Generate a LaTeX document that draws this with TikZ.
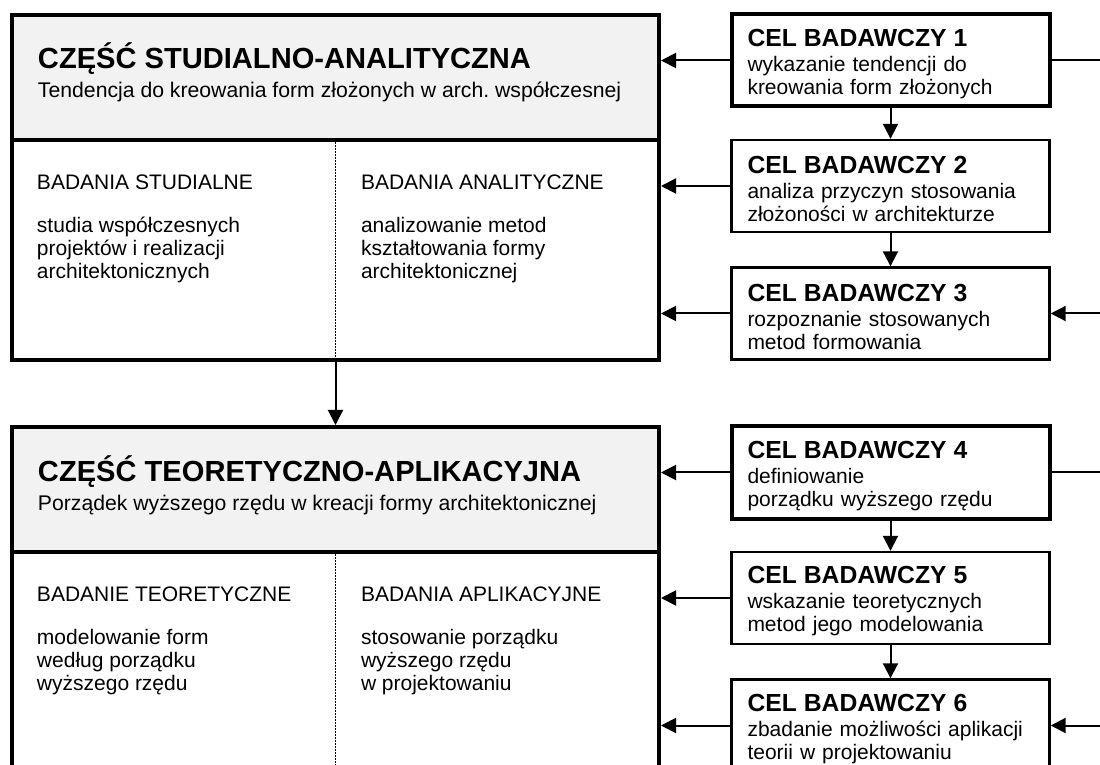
\documentclass[tikz,border=0pt]{standalone}
\usepackage{fontspec}
\setmainfont{Liberation Sans}
\usetikzlibrary{arrows.meta}
\frenchspacing

\definecolor{headgrey}{HTML}{F2F2F2}

\tikzset{
	part/.style={draw, line width=2pt, minimum width=323.5pt, minimum height=172.5pt, inner sep=0pt},
	head/.style={draw, fill=headgrey, line width=2pt, minimum width=323.5pt, minimum height=62.5pt, inner sep=0pt},
	goal/.style={draw, line width=1.2pt, minimum width=159pt, minimum height=46pt, text width=143pt,
		inner xsep=8pt, inner ysep=0pt, align=left, font=\fontsize{10.5}{11.5}\selectfont},
	goalmain/.style={goal, line width=2pt},
	title/.style={anchor=base west, inner sep=0pt, font=\fontsize{14.55}{16}\selectfont\bfseries},
	subtitle/.style={anchor=base west, inner sep=0pt, font=\fontsize{10.6}{11.5}\selectfont},
	label/.style={anchor=base west, inner sep=0pt, font=\fontsize{10.5}{11.5}\selectfont},
	body/.style={anchor=north west, inner sep=0pt, align=left, font=\fontsize{10.5}{11.5}\selectfont},
	divider/.style={line width=0.9pt, dash pattern=on 1pt off 0.5pt},
}
\newcommand{\goalname}[1]{{\rule{0pt}{12pt}\fontsize{12.35}{14}\selectfont\bfseries CEL BADAWCZY #1}\\[1pt]}

\begin{document}
\begin{tikzpicture}[x=0.5pt, y=-0.5pt, line width=1pt, >={Triangle[length=7.5pt,width=7.5pt]}]
	\useasboundingbox (0,0) rectangle (1100,765);
	\clip (0,0) rectangle (1100,765);

	% upper part
	\node[part] (part1) at (335.5,187.5) {};
	\node[head, anchor=north] (head1) at (part1.north) {};
	\node[title] (title1) at (37,69) {CZĘŚĆ STUDIALNO-ANALITYCZNA};
	\node[subtitle] (sub1) at (37,98) {Tendencja do kreowania form złożonych w arch. współczesnej};
	\draw[divider] (head1.south) -- (part1.south);
	\node[label] (lab1a) at (36,190) {BADANIA STUDIALNE};
	\node[label] (lab1b) at (360,190) {BADANIA ANALITYCZNE};
	\node[body] (txt1a) at (36,216) {studia współczesnych\\projektów i realizacji\\architektonicznych};
	\node[body] (txt1b) at (360,216) {analizowanie metod\\kształtowania formy\\architektonicznej};

	% lower part
	\node[part] (part2) at (335.5,599.5) {};
	\node[head, anchor=north] (head2) at (part2.north) {};
	\node[title] (title2) at (37,481) {CZĘŚĆ TEORETYCZNO-APLIKACYJNA};
	\node[subtitle] (sub2) at (37,510) {Porządek wyższego rzędu w kreacji formy architektonicznej};
	\draw[divider] (head2.south) -- (part2.south);
	\node[label] (lab2a) at (36,602) {BADANIE TEORETYCZNE};
	\node[label] (lab2b) at (360,602) {BADANIA APLIKACYJNE};
	\node[body] (txt2a) at (36,628) {modelowanie form\\według porządku\\wyższego rzędu};
	\node[body] (txt2b) at (360,628) {stosowanie porządku\\wyższego rzędu\\w projektowaniu};

	% research goals
	\node[goalmain] (cel1) at (890.5,60.5) {\goalname{1}wykazanie tendencji do\\kreowania form złożonych};
	\node[goal] (cel2) at (890.5,186) {\goalname{2}analiza przyczyn stosowania\\złożoności w architekturze};
	\node[goal] (cel3) at (890.5,313.5) {\goalname{3}rozpoznanie stosowanych\\metod formowania};
	\node[goalmain] (cel4) at (890.5,472.5) {\goalname{4}definiowanie\\porządku wyższego rzędu};
	\node[goal] (cel5) at (890.5,598) {\goalname{5}wskazanie teoretycznych\\metod jego modelowania};
	\node[goal] (cel6) at (890.5,725.5) {\goalname{6}zbadanie możliwości aplikacji\\teorii w projektowaniu};

	\coordinate (out1) at (1100,60.5);
	\coordinate (in3) at (1100,313.5);
	\coordinate (out4) at (1100,472.5);
	\coordinate (in6) at (1100,725.5);

	\draw[->] (part1.south) -- (part2.north);
	\draw[->] (cel1.south) -- (cel2.north);
	\draw[->] (cel2.south) -- (cel3.north);
	\draw[->] (cel4.south) -- (cel5.north);
	\draw[->] (cel5.south) -- (cel6.north);
	\draw[->] (cel1.west) -- (cel1.west -| part1.east);
	\draw[->] (cel2.west) -- (cel2.west -| part1.east);
	\draw[->] (cel3.west) -- (cel3.west -| part1.east);
	\draw[->] (cel4.west) -- (cel4.west -| part2.east);
	\draw[->] (cel5.west) -- (cel5.west -| part2.east);
	\draw[->] (cel6.west) -- (cel6.west -| part2.east);
	\draw (cel1.east) -- (out1);
	\draw (cel4.east) -- (out4);
	\draw[->] (in3) -- (cel3.east);
	\draw[->] (in6) -- (cel6.east);
\end{tikzpicture}
\end{document}
